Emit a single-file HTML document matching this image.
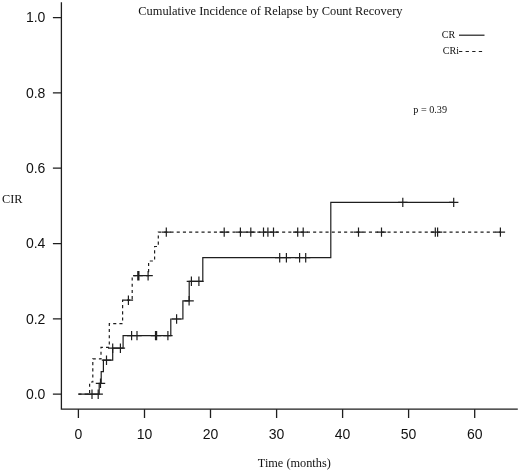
<!DOCTYPE html>
<html><head><meta charset="utf-8"><style>
html,body{margin:0;padding:0;background:#fff;width:520px;height:471px;overflow:hidden}
svg{display:block;will-change:transform}
.s{font-family:"Liberation Sans",sans-serif;font-size:14px;fill:#111}
.t{font-family:"Liberation Serif",serif;fill:#111}
</style></head><body>
<svg width="520" height="471" viewBox="0 0 520 471">
<path d="M61.4,2.2 V409.2 H517.8" fill="none" stroke="#1e1e1e" stroke-width="1.3"/>
<path d="M52.9,394.2 H61.4 M52.9,318.9 H61.4 M52.9,243.6 H61.4 M52.9,168.2 H61.4 M52.9,92.9 H61.4 M52.9,17.6 H61.4 M78.4,409.2 V418 M144.5,409.2 V418 M210.5,409.2 V418 M276.6,409.2 V418 M342.6,409.2 V418 M408.6,409.2 V418 M474.7,409.2 V418" fill="none" stroke="#1e1e1e" stroke-width="1.3"/>
<text x="45.4" y="398.9" text-anchor="end" class="s">0.0</text>
<text x="45.4" y="323.6" text-anchor="end" class="s">0.2</text>
<text x="45.4" y="248.3" text-anchor="end" class="s">0.4</text>
<text x="45.4" y="172.9" text-anchor="end" class="s">0.6</text>
<text x="45.4" y="97.6" text-anchor="end" class="s">0.8</text>
<text x="45.4" y="22.3" text-anchor="end" class="s">1.0</text>
<text x="78.4" y="438.6" text-anchor="middle" class="s">0</text>
<text x="144.5" y="438.6" text-anchor="middle" class="s">10</text>
<text x="210.5" y="438.6" text-anchor="middle" class="s">20</text>
<text x="276.6" y="438.6" text-anchor="middle" class="s">30</text>
<text x="342.6" y="438.6" text-anchor="middle" class="s">40</text>
<text x="408.6" y="438.6" text-anchor="middle" class="s">50</text>
<text x="474.7" y="438.6" text-anchor="middle" class="s">60</text>
<path d="M78.4,394.2 H99.2 V383.3 H101.2 V371.7 H103.4 V360.2 H112.7 V348.2 H123.1 V335.6 H170.8 V319 H182.9 V300.8 H189.2 V281.3 H202.8 V257.7 H330.8 V202.4 H453.7" fill="none" stroke="#1e1e1e" stroke-width="1.2"/>
<path d="M78.4,394.2 H89.6 V382 H92.8 V358.9 H101 V347.4 H109.3 V323.6 H122.6 V300.2 H132.2 V275.7 H148.6 V261 H154.6 V246.5 H158.3 V232.1 H500.4" fill="none" stroke="#1e1e1e" stroke-width="1.2" stroke-dasharray="3.1 3.1"/>
<path d="M87.3,394.2 h9.4 M92,389.5 v9.4 M93.5,394.2 h9.4 M98.2,389.5 v9.4 M95.8,383.3 h9.4 M100.5,378.6 v9.4 M101.8,360.2 h9.4 M106.5,355.5 v9.4 M108.0,348.2 h9.4 M112.7,343.5 v9.4 M115.7,348.2 h9.4 M120.4,343.5 v9.4 M126.9,335.6 h9.4 M131.6,330.9 v9.4 M132.3,335.6 h9.4 M137,330.9 v9.4 M150.8,335.6 h9.4 M155.5,330.9 v9.4 M151.9,335.6 h9.4 M156.6,330.9 v9.4 M163.2,335.6 h9.4 M167.9,330.9 v9.4 M171.9,319 h9.4 M176.6,314.3 v9.4 M184.4,300.8 h9.4 M189.1,296.1 v9.4 M186.7,281.3 h9.4 M191.4,276.6 v9.4 M194.2,281.3 h9.4 M198.9,276.6 v9.4 M275.0,257.7 h9.4 M279.7,253.0 v9.4 M281.7,257.7 h9.4 M286.4,253.0 v9.4 M294.9,257.7 h9.4 M299.6,253.0 v9.4 M301.0,257.7 h9.4 M305.7,253.0 v9.4 M398.1,202.4 h9.4 M402.8,197.7 v9.4 M449.0,202.4 h9.4 M453.7,197.7 v9.4 M123.7,300.2 h9.4 M128.4,295.5 v9.4 M133.1,275.7 h9.4 M137.8,271.0 v9.4 M134.2,275.7 h9.4 M138.9,271.0 v9.4 M143.4,275.7 h9.4 M148.1,271.0 v9.4 M161.6,232.1 h9.4 M166.3,227.4 v9.4 M219.5,232.1 h9.4 M224.2,227.4 v9.4 M235.7,232.1 h9.4 M240.4,227.4 v9.4 M246.1,232.1 h9.4 M250.8,227.4 v9.4 M258.8,232.1 h9.4 M263.5,227.4 v9.4 M263.2,232.1 h9.4 M267.9,227.4 v9.4 M268.8,232.1 h9.4 M273.5,227.4 v9.4 M293.0,232.1 h9.4 M297.7,227.4 v9.4 M298.5,232.1 h9.4 M303.2,227.4 v9.4 M353.8,232.1 h9.4 M358.5,227.4 v9.4 M376.8,232.1 h9.4 M381.5,227.4 v9.4 M430.6,232.1 h9.4 M435.3,227.4 v9.4 M432.9,232.1 h9.4 M437.6,227.4 v9.4 M495.7,232.1 h9.4 M500.4,227.4 v9.4" fill="none" stroke="#1e1e1e" stroke-width="1.2"/>
<text x="138.3" y="14.9" class="t" font-size="12.4">Cumulative Incidence of Relapse by Count Recovery</text>
<text x="441.8" y="38.4" class="t" font-size="10">CR</text>
<path d="M459,35.2 H484.5" stroke="#1e1e1e" stroke-width="1.2"/>
<text x="442.8" y="53.5" class="t" font-size="10">CRi</text>
<path d="M459,51.5 H482.3" stroke="#1e1e1e" stroke-width="1.2" stroke-dasharray="3.3 3.3"/>
<text x="413.3" y="113.4" class="t" font-size="10.2">p = 0.39</text>
<text x="2" y="202.8" class="t" font-size="12.3">CIR</text>
<text x="257.8" y="466.6" class="t" font-size="12.3">Time (months)</text>
</svg>
</body></html>
